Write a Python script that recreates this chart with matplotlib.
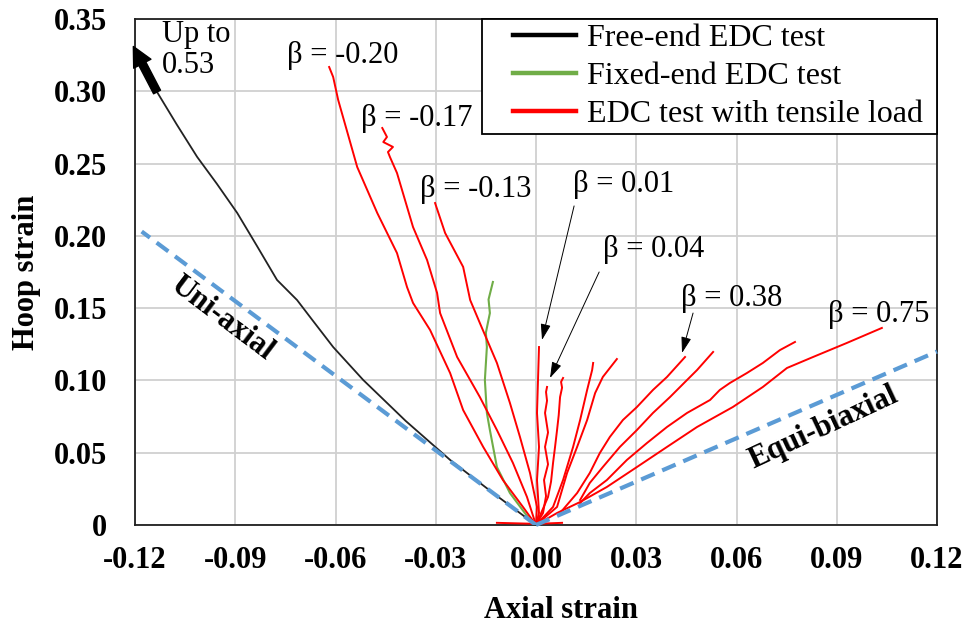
import matplotlib
matplotlib.use("Agg")
import numpy as np
import matplotlib.pyplot as plt
from matplotlib.lines import Line2D
from matplotlib.legend_handler import HandlerLine2D

plt.rcParams['font.family'] = ['Liberation Serif', 'DejaVu Serif']
plt.rcParams['axes.unicode_minus'] = False

# ---------------- data ----------------
x_ticks = [-0.12, -0.09, -0.06, -0.03, 0.00, 0.03, 0.06, 0.09, 0.12]
x_tick_labels = ['-0.12', '-0.09', '-0.06', '-0.03', '0.00', '0.03', '0.06', '0.09', '0.12']
y_ticks = [0, 0.05, 0.10, 0.15, 0.20, 0.25, 0.30, 0.35]
y_tick_labels = ['0', '0.05', '0.10', '0.15', '0.20', '0.25', '0.30', '0.35']

# free-end EDC test (black)
free_x = [0.0, -0.0129, -0.0257, -0.0390, -0.0517, -0.0607, -0.0670, -0.0715, -0.0775,
          -0.0835, -0.0894, -0.0955, -0.1014, -0.1075, -0.1134]
free_y = [0.0, 0.0222, 0.0450, 0.0720, 0.1003, 0.1231, 0.1420, 0.1556, 0.1695,
          0.1930, 0.2158, 0.2360, 0.2546, 0.2770, 0.2995]
arrow_tail = (-0.1134, 0.2995)
arrow_tip = (-0.1205, 0.3310)

# fixed-end EDC test (green)
fixed_x = [0.0, -0.0018, -0.0078, -0.0117, -0.0138, -0.0147, -0.0153, -0.0147,
           -0.0150, -0.0138, -0.0142, -0.0129]
fixed_y = [0.0, 0.0035, 0.0221, 0.0401, 0.0657, 0.0775, 0.1003, 0.1231,
           0.1330, 0.1466, 0.1560, 0.1681]

# EDC tests with tensile load (red)
b020_x = [0.0, -0.0039, -0.0099, -0.0158, -0.0218, -0.0257, -0.0317, -0.0368,
          -0.0386, -0.0416, -0.0475, -0.0535, -0.0592, -0.0607, -0.0619]
b020_y = [0.0, 0.0125, 0.0311, 0.0540, 0.0795, 0.1051, 0.1349, 0.1536,
          0.1646, 0.1881, 0.2158, 0.2476, 0.2940, 0.3099, 0.3168]

b017_x = [0.0, -0.0027, -0.0069, -0.0117, -0.0168, -0.0236, -0.0287, -0.0296,
          -0.0326, -0.0368, -0.0416, -0.0437, -0.0443, -0.0428, -0.0457, -0.0446, -0.0460]
b017_y = [0.0, 0.0194, 0.0429, 0.0657, 0.0885, 0.1162, 0.1466, 0.1605,
          0.1833, 0.2061, 0.2435, 0.2545, 0.2580, 0.2615, 0.2649, 0.2684, 0.2746]

b013_x = [0.0, 0.0003, -0.0018, -0.0048, -0.0078, -0.0117, -0.0168, -0.0197,
          -0.0218, -0.0272, -0.0302]
b013_y = [0.0, 0.0125, 0.0360, 0.0609, 0.0844, 0.1121, 0.1397, 0.1556,
          0.1785, 0.2020, 0.2227]

b001_x = [0.0, 0.0009, 0.0003, 0.0009, 0.0003, 0.0006, 0.0009]
b001_y = [0.0, 0.0083, 0.0311, 0.0540, 0.0775, 0.1003, 0.1231]

b004a_x = [0.0, 0.0021, 0.0030, 0.0024, 0.0036, 0.0027, 0.0036, 0.0027, 0.0033, 0.0030, 0.0033]
b004a_y = [0.0, 0.0083, 0.0200, 0.0311, 0.0420, 0.0540, 0.0640, 0.0775, 0.0860, 0.0920, 0.0955]

b004b_x = [0.0, 0.0036, 0.0045, 0.0051, 0.0057, 0.0063, 0.0068, 0.0072, 0.0078, 0.0075, 0.0081]
b004b_y = [0.0, 0.0194, 0.0300, 0.0429, 0.0540, 0.0657, 0.0760, 0.0885, 0.0950, 0.0990, 0.1017]

b_c_x = [0.0, 0.0051, 0.0081, 0.0111, 0.0132, 0.0153, 0.0168, 0.0171]
b_c_y = [0.0, 0.0125, 0.0311, 0.0540, 0.0726, 0.0934, 0.1072, 0.1121]

b_d_x = [0.0, 0.0063, 0.0093, 0.0123, 0.0153, 0.0177, 0.0200, 0.0242]
b_d_y = [0.0, 0.0125, 0.0360, 0.0540, 0.0726, 0.0913, 0.1024, 0.1148]

b038_x = [0.0072, 0.0123, 0.0161, 0.0191, 0.0221, 0.0260, 0.0302, 0.0350, 0.0392, 0.0446]
b038_y = [0.0083, 0.0221, 0.0360, 0.0498, 0.0609, 0.0726, 0.0816, 0.0934, 0.1024, 0.1162]

b_f_x = [0.0132, 0.0161, 0.0200, 0.0251, 0.0302, 0.0350, 0.0401, 0.0452, 0.0482, 0.0530]
b_f_y = [0.0173, 0.0291, 0.0401, 0.0540, 0.0657, 0.0775, 0.0885, 0.1003, 0.1072, 0.1197]

b_g_x = [0.0132, 0.0161, 0.0212, 0.0272, 0.0332, 0.0392, 0.0452, 0.0521, 0.0550,
         0.0580, 0.0631, 0.0679, 0.0730, 0.0775]
b_g_y = [0.0152, 0.0221, 0.0311, 0.0450, 0.0567, 0.0678, 0.0775, 0.0865, 0.0934,
         0.0982, 0.1051, 0.1121, 0.1210, 0.1266]

b075_x = [0.0, 0.0063, 0.0132, 0.0212, 0.0302, 0.0392, 0.0482, 0.0589, 0.0679,
          0.0751, 0.0829, 0.0930, 0.1035]
b075_y = [0.0, 0.0083, 0.0159, 0.0263, 0.0401, 0.0540, 0.0678, 0.0816, 0.0955,
          0.1086, 0.1162, 0.1259, 0.1363]

base_x = [-0.0117, 0.0, 0.0078]
base_y = [0.0015, 0.0008, 0.0015]

red_series = [(b020_x, b020_y), (b017_x, b017_y), (b013_x, b013_y), (b001_x, b001_y),
              (b004a_x, b004a_y), (b004b_x, b004b_y), (b_c_x, b_c_y), (b_d_x, b_d_y),
              (b038_x, b038_y), (b_f_x, b_f_y), (b_g_x, b_g_y), (b075_x, b075_y),
              (base_x, base_y)]

# reference lines
uni_x = [0.0, -0.118]
uni_y = [0.0, 0.203]
equi_x = [0.0, 0.12]
equi_y = [0.0, 0.12]

# beta labels: (text, x, y)
beta_labels = [('β = -0.20', -0.0577, 0.3250), ('β = -0.17', -0.0356, 0.2810),
               ('β = -0.13', -0.0180, 0.2320), ('β = 0.01', 0.0263, 0.2355),
               ('β = 0.04', 0.0353, 0.1905), ('β = 0.38', 0.0586, 0.1565),
               ('β = 0.75', 0.1026, 0.1455)]
# pointer arrows: (tail, tip)
beta_arrows = [((0.0114, 0.2207), (0.0018, 0.1280)),
               ((0.0189, 0.1750), (0.0042, 0.1017)),
               ((0.0470, 0.1466), (0.0437, 0.1190))]

legend_labels = ['Free-end EDC test', 'Fixed-end EDC test', 'EDC test with tensile load']


class OffsetLineHandler(HandlerLine2D):
    """Legend line drawn only over the right part of the handle box."""
    def create_artists(self, legend, orig_handle, xdescent, ydescent, width,
                       height, fontsize, trans):
        arts = super().create_artists(legend, orig_handle, xdescent, ydescent,
                                      width, height, fontsize, trans)
        x0 = -xdescent
        for a in arts:
            xd = a.get_xdata()
            if len(xd) >= 2:
                a.set_xdata(np.linspace(x0 + 0.29 * width, x0 + width, len(xd)))
        return arts


# ---------------- plot ----------------
fig = plt.figure(figsize=(9.66, 6.26), dpi=100)
ax = fig.add_axes([135 / 966, 101 / 626, 802 / 966, 506 / 626])

ax.set_xlim(-0.12, 0.12)
ax.set_ylim(0, 0.35)
ax.set_xticks(x_ticks)
ax.set_xticklabels(x_tick_labels)
ax.set_yticks(y_ticks)
ax.set_yticklabels(y_tick_labels)
ax.tick_params(axis='both', length=0, labelsize=22)
ax.tick_params(axis='x', pad=15)
ax.tick_params(axis='y', pad=20)
for lab in ax.get_xticklabels() + ax.get_yticklabels():
    lab.set_fontweight('bold')

ax.grid(True, color='#d0d0d0', linewidth=1.3)
ax.set_axisbelow(True)
for sp in ax.spines.values():
    sp.set_linewidth(1.3)
    sp.set_color('#202020')

ax.plot(free_x, free_y, color='#222222', lw=1.3, zorder=3)
ax.plot(fixed_x, fixed_y, color='#70AD47', lw=1.5, zorder=3)
for xs, ys in red_series:
    ax.plot(xs, ys, color='#FF0000', lw=1.4, zorder=3)

ax.plot(uni_x, uni_y, color='#5B9BD5', lw=3, dashes=(3.5, 2), zorder=4)
ax.plot(equi_x, equi_y, color='#5B9BD5', lw=3, dashes=(3.5, 2), zorder=4, clip_on=False)

# thick arrow "up to 0.53"
ax.annotate('', xy=arrow_tip, xytext=arrow_tail,
            arrowprops=dict(arrowstyle='simple,head_length=1.0,head_width=1.0,tail_width=0.4',
                            fc='black', ec='black', shrinkA=0, shrinkB=0, mutation_scale=14),
            annotation_clip=False, zorder=6)
ax.text(-0.1119, 0.349, 'Up to\n0.53', fontsize=22, ha='left', va='top', linespacing=1.05)

for txt, x, y in beta_labels:
    ax.text(x, y, txt, fontsize=22, ha='center', va='center')
for tail, tip in beta_arrows:
    ax.annotate('', xy=tip, xytext=tail,
                arrowprops=dict(arrowstyle='-|>,head_length=0.7,head_width=0.22',
                                fc='black', ec='black', lw=0.7, shrinkA=0, shrinkB=0,
                                mutation_scale=14))

ax.text(-0.0939, 0.1430, 'Uni-axial', fontsize=22, fontweight='bold', rotation=-37,
        ha='center', va='center', rotation_mode='anchor')
ax.text(0.0861, 0.0671, 'Equi-biaxial', fontsize=22, fontweight='bold', rotation=25,
        ha='center', va='center', rotation_mode='anchor')

fig.text(561 / 966, 1 - 611 / 626, 'Axial strain', fontsize=22, fontweight='bold',
         ha='center', va='center')
fig.text(27 / 966, 1 - 272 / 626, 'Hoop strain', fontsize=22, fontweight='bold',
         ha='center', va='center', rotation=90)

handles = [Line2D([], [], color='black', lw=3.2),
           Line2D([], [], color='#70AD47', lw=3.2),
           Line2D([], [], color='#FF0000', lw=3.2)]
leg = ax.legend(handles, legend_labels,
                loc='upper left', bbox_to_anchor=(347 / 802, 0.0, 455 / 802, 1.0),
                mode='expand', borderaxespad=0, fontsize=23,
                frameon=True, fancybox=False, handlelength=2.8, handletextpad=0.34,
                labelspacing=0.27, borderpad=0.15, framealpha=1,
                handler_map={Line2D: OffsetLineHandler()})
leg.get_frame().set_edgecolor('black')
leg.get_frame().set_linewidth(1.3)
leg.set_zorder(10)

fig.savefig('out.png', dpi=100)
